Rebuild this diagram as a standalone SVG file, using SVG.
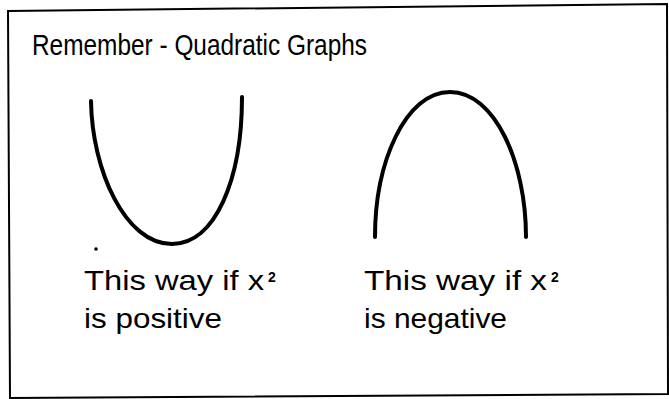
<svg xmlns="http://www.w3.org/2000/svg" width="669" height="399" viewBox="0 0 669 399">
<style>
.t{font-family:"Liberation Sans","Noto Sans",Arial,sans-serif;fill:#000}
.title{font-size:30px}
.body{font-size:28px}
.sup{font-size:14px;font-weight:bold}
.curve{fill:none;stroke:#000;stroke-width:4;stroke-linecap:round}
</style>
<rect width="669" height="399" fill="#fff"/>
<polygon id="frame" points="8,11 667,4 668,394 10,398" fill="none" stroke="#000" stroke-width="2"/>
<g id="title"><text class="t title" x="32" y="55" textLength="335" lengthAdjust="spacingAndGlyphs">Remember - Quadratic Graphs</text></g>
<g id="positive">
<path class="curve" d="M91,101 C92,170 125,244 172,244 C215,244 242,180 242,97"/>
<circle cx="96" cy="249" r="1.8" fill="#000"/>
<text class="t body" x="84" y="290" textLength="180" lengthAdjust="spacingAndGlyphs">This way if x</text>
<text class="t sup" x="268" y="282">2</text>
<text class="t body" x="84" y="328" textLength="138" lengthAdjust="spacingAndGlyphs">is positive</text>
</g>
<g id="negative">
<path class="curve" d="M375,237 C375,163 405,92 450,92 C495,92 526,163 526,237"/>
<text class="t body" x="364" y="290" textLength="183" lengthAdjust="spacingAndGlyphs">This way if x</text>
<text class="t sup" x="551" y="282">2</text>
<text class="t body" x="364" y="328" textLength="143" lengthAdjust="spacingAndGlyphs">is negative</text>
</g>
</svg>
